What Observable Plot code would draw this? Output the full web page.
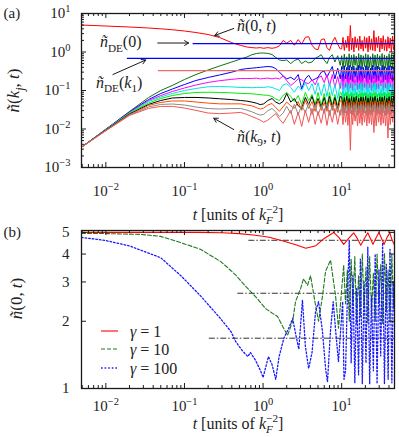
<!DOCTYPE html>
<html><head><meta charset="utf-8">
<script src="https://cdn.jsdelivr.net/npm/d3@7"></script>
<script src="https://cdn.jsdelivr.net/npm/@observablehq/plot@0.6"></script>
<style>
html,body{margin:0;padding:0;background:#fff;}
#chart{width:399px;height:437px;position:relative;overflow:hidden;background:#fff;}
#chart svg{display:block;}
</style></head><body><div id="chart"></div>
<script>
// ================= DATA =================
// shared time grid for panel (a)  [t in units of k_F^-2]
const tGrid = [0.0049, 0.01, 0.02, 0.035, 0.05, 0.07, 0.1, 0.14, 0.2, 0.28, 0.4, 0.52, 0.62, 0.72, 0.82, 0.92, 1.02, 1.15, 1.3, 1.45, 1.62, 1.8, 2.0, 2.25, 2.5, 2.8, 3.1, 3.45, 3.8, 4.2, 4.6, 5.0, 5.5, 6.0, 6.5, 7.0, 7.6, 8.2, 8.9, 9.6,
  10.0, 10.4, 10.8, 11.2, 11.6, 12.0, 12.45, 12.9, 13.35, 13.8, 14.3, 14.8, 15.35, 15.9, 16.45, 17.0, 17.6, 18.2, 18.85, 19.5, 20.2, 20.9, 21.65, 22.4, 23.2, 24.0, 24.85, 25.7, 26.6, 27.5, 28.5, 29.5, 30.5, 31.6, 32.7, 33.8, 35.0, 36.2, 37.5, 38.8, 40.1, 41.5, 42.9, 44.4, 45.7, 47];

const nK0 = [5.02, 4.73, 4.46, 4.2, 4.0, 3.79, 3.51, 3.21, 2.85, 2.38, 1.75, 1.48, 1.35, 1.3, 1.27, 1.3, 1.25, 1.3, 1.25, 1.3, 1.45, 1.99, 1.7, 2.0, 1.5, 2.1, 1.6, 2.4, 2.5, 1.5, 1.2, 1.15, 2.1, 2.2, 1.3, 1.1, 1.8, 2.4, 1.6, 1.2,
  1.2, 2.4, 1.1, 2.0, 1.3, 2.6, 1.05, 4.87, 1.15, 2.3, 1.0, 2.5, 1.3, 2.2, 1.1, 2.6, 1.2, 2.0, 1.05, 2.5, 1.25, 2.35, 1.0, 2.6, 1.15, 2.2, 1.1, 3.6, 1.05, 2.4, 1.3, 2.55, 1.0, 2.3, 1.2, 2.65, 1.1, 2.1, 1.05, 2.5, 1.25, 2.3, 1.0, 2.6, 1.15, 1.7];
const nK1 = [0.00337, 0.00989, 0.0285, 0.0658, 0.100, 0.135, 0.193, 0.26, 0.341, 0.433, 0.55, 0.66, 0.74, 0.85, 0.91, 0.94, 0.94, 0.92, 0.86, 0.72, 0.62, 0.6, 0.62, 0.5, 0.6, 0.66, 0.5, 0.58, 0.52, 0.55, 0.68, 0.75, 0.85, 0.62, 0.5, 0.72, 0.85, 0.55, 0.8, 0.45,
  0.8, 0.36, 0.88, 0.42, 0.75, 0.34, 0.9, 0.4, 0.82, 0.35, 0.86, 0.45, 0.78, 0.33, 0.91, 0.38, 0.84, 0.36, 0.8, 0.42, 0.9, 0.34, 0.85, 0.39, 0.76, 0.33, 0.9, 0.41, 0.83, 0.35, 0.88, 0.37, 0.8, 0.44, 0.91, 0.34, 0.84, 0.38, 0.79, 0.33, 0.9, 0.4, 0.86, 0.36, 0.82, 0.6];
const nK2 = [0.00337, 0.00977, 0.0277, 0.0583, 0.0836, 0.109, 0.143, 0.182, 0.218, 0.253, 0.3, 0.35, 0.37, 0.38, 0.39, 0.40, 0.41, 0.42, 0.41, 0.37, 0.3, 0.24, 0.2, 0.22, 0.19, 0.26, 0.11, 0.2, 0.25, 0.18, 0.2, 0.22, 0.3, 0.32, 0.22, 0.3, 0.42, 0.2, 0.38, 0.2,
  0.42, 0.17, 0.44, 0.2, 0.4, 0.165, 0.45, 0.19, 0.41, 0.17, 0.43, 0.22, 0.39, 0.16, 0.45, 0.18, 0.42, 0.17, 0.4, 0.21, 0.44, 0.165, 0.42, 0.19, 0.38, 0.16, 0.45, 0.2, 0.41, 0.17, 0.43, 0.18, 0.4, 0.22, 0.45, 0.165, 0.42, 0.19, 0.39, 0.16, 0.44, 0.2, 0.43, 0.17, 0.41, 0.29];
const nK3 = [0.00337, 0.0097, 0.0268, 0.055, 0.074, 0.094, 0.116, 0.139, 0.162, 0.18, 0.195, 0.205, 0.205, 0.205, 0.21, 0.2, 0.205, 0.21, 0.2, 0.21, 0.2, 0.24, 0.18, 0.135, 0.16, 0.2, 0.19, 0.16, 0.15, 0.19, 0.14, 0.21, 0.24, 0.16, 0.26, 0.13, 0.26, 0.12, 0.23, 0.113,
  0.25, 0.105, 0.24, 0.12, 0.26, 0.1, 0.23, 0.115, 0.255, 0.1, 0.24, 0.13, 0.25, 0.105, 0.26, 0.11, 0.23, 0.1, 0.25, 0.12, 0.26, 0.105, 0.24, 0.115, 0.25, 0.1, 0.26, 0.12, 0.23, 0.105, 0.25, 0.11, 0.26, 0.13, 0.24, 0.1, 0.255, 0.115, 0.24, 0.1, 0.26, 0.12, 0.25, 0.105, 0.24, 0.16];
const nK4 = [0.00337, 0.0096, 0.0261, 0.0518, 0.0678, 0.0836, 0.100, 0.113, 0.125, 0.127, 0.124, 0.12, 0.12, 0.118, 0.12, 0.12, 0.12, 0.125, 0.12, 0.11, 0.1, 0.14, 0.15, 0.12, 0.09, 0.13, 0.1, 0.16, 0.1, 0.15, 0.08, 0.16, 0.075, 0.15, 0.07, 0.165, 0.074, 0.143, 0.062, 0.152,
  0.155, 0.066, 0.15, 0.072, 0.16, 0.063, 0.145, 0.07, 0.158, 0.065, 0.15, 0.076, 0.162, 0.064, 0.148, 0.069, 0.157, 0.062, 0.152, 0.073, 0.16, 0.065, 0.146, 0.068, 0.158, 0.063, 0.153, 0.075, 0.16, 0.066, 0.148, 0.07, 0.157, 0.064, 0.152, 0.072, 0.162, 0.065, 0.15, 0.068, 0.158, 0.063, 0.147, 0.071, 0.155, 0.1];
const nK5 = [0.00337, 0.0095, 0.0253, 0.0473, 0.062, 0.074, 0.0836, 0.089, 0.09, 0.089, 0.087, 0.084, 0.083, 0.082, 0.08, 0.078, 0.076, 0.075, 0.07, 0.06, 0.055, 0.075, 0.09, 0.07, 0.0518, 0.074, 0.0435, 0.089, 0.055, 0.079, 0.0435, 0.089, 0.041, 0.0836, 0.0386, 0.089, 0.041, 0.079, 0.0386, 0.089,
  0.086, 0.037, 0.084, 0.041, 0.089, 0.036, 0.08, 0.039, 0.088, 0.037, 0.083, 0.042, 0.089, 0.036, 0.081, 0.039, 0.087, 0.037, 0.085, 0.04, 0.089, 0.036, 0.082, 0.038, 0.088, 0.037, 0.084, 0.041, 0.089, 0.036, 0.081, 0.039, 0.087, 0.037, 0.085, 0.04, 0.089, 0.036, 0.083, 0.038, 0.088, 0.037, 0.084, 0.04, 0.086, 0.058];
const nK6 = [0.00337, 0.0094, 0.0245, 0.0435, 0.055, 0.0638, 0.066, 0.066, 0.064, 0.061, 0.058, 0.055, 0.053, 0.05, 0.047, 0.043, 0.045, 0.055, 0.062, 0.05, 0.045, 0.052, 0.0836, 0.05, 0.062, 0.04, 0.0343, 0.0658, 0.0435, 0.07, 0.0386, 0.062, 0.0364, 0.0658, 0.0343, 0.07, 0.0364, 0.0658, 0.0343, 0.07,
  0.068, 0.034, 0.065, 0.037, 0.07, 0.033, 0.062, 0.036, 0.069, 0.034, 0.066, 0.038, 0.07, 0.032, 0.063, 0.036, 0.068, 0.034, 0.066, 0.037, 0.07, 0.033, 0.064, 0.035, 0.069, 0.034, 0.066, 0.038, 0.07, 0.032, 0.063, 0.036, 0.068, 0.034, 0.066, 0.037, 0.07, 0.033, 0.064, 0.035, 0.069, 0.034, 0.066, 0.037, 0.068, 0.049];
const nK7 = [0.00337, 0.0092, 0.0238, 0.041, 0.049, 0.0534, 0.0534, 0.0503, 0.047, 0.045, 0.045, 0.045, 0.042, 0.04, 0.036, 0.033, 0.035, 0.042, 0.046, 0.036, 0.029, 0.038, 0.05, 0.04, 0.0343, 0.0518, 0.0304, 0.055, 0.0343, 0.0518, 0.0287, 0.055, 0.0304, 0.049, 0.0287, 0.055, 0.0304, 0.0518, 0.027, 0.055,
  0.053, 0.028, 0.05, 0.031, 0.055, 0.027, 0.049, 0.03, 0.054, 0.028, 0.051, 0.032, 0.055, 0.027, 0.05, 0.03, 0.053, 0.028, 0.052, 0.031, 0.055, 0.027, 0.049, 0.029, 0.054, 0.028, 0.051, 0.032, 0.055, 0.027, 0.05, 0.03, 0.053, 0.028, 0.052, 0.031, 0.055, 0.027, 0.049, 0.029, 0.054, 0.028, 0.051, 0.031, 0.053, 0.041];
const nK8 = [0.00337, 0.0091, 0.0231, 0.0373, 0.0435, 0.0446, 0.042, 0.0373, 0.034, 0.033, 0.034, 0.034, 0.031, 0.028, 0.025, 0.023, 0.024, 0.03, 0.034, 0.028, 0.021, 0.026, 0.0386, 0.0254, 0.0435, 0.0238, 0.041, 0.027, 0.046, 0.0238, 0.0435, 0.0225, 0.041, 0.0254, 0.046, 0.0225, 0.0435, 0.0238, 0.041, 0.0225,
  0.044, 0.023, 0.041, 0.026, 0.046, 0.0225, 0.04, 0.025, 0.045, 0.023, 0.042, 0.027, 0.046, 0.0225, 0.041, 0.025, 0.044, 0.023, 0.043, 0.026, 0.046, 0.0225, 0.04, 0.024, 0.045, 0.023, 0.042, 0.027, 0.046, 0.0225, 0.041, 0.025, 0.044, 0.023, 0.043, 0.026, 0.046, 0.0225, 0.04, 0.024, 0.045, 0.023, 0.042, 0.026, 0.044, 0.032];
const nK9 = [0.00337, 0.009, 0.0225, 0.0343, 0.0386, 0.0386, 0.0351, 0.0304, 0.026, 0.025, 0.026, 0.027, 0.024, 0.021, 0.019, 0.017, 0.015, 0.017, 0.021, 0.025, 0.018, 0.014, 0.02, 0.0304, 0.0132, 0.027, 0.0117, 0.0304, 0.0149, 0.0343, 0.0132, 0.0285, 0.0141, 0.0343, 0.0124, 0.0304, 0.0149, 0.0343, 0.0132, 0.0304,
  0.032, 0.013, 0.034, 0.015, 0.03, 0.0124, 0.034, 0.0028, 0.031, 0.013, 0.034, 0.016, 0.03, 0.012, 0.033, 0.014, 0.031, 0.0125, 0.034, 0.015, 0.03, 0.012, 0.033, 0.014, 0.031, 0.013, 0.034, 0.0081, 0.03, 0.012, 0.033, 0.015, 0.031, 0.0125, 0.034, 0.014, 0.03, 0.012, 0.033, 0.0058, 0.031, 0.013, 0.034, 0.015, 0.03, 0.022];

const seriesA = [nK0, nK1, nK2, nK3, nK4, nK5, nK6, nK7, nK8, nK9];
const colorsA = ["#ff0000", "#0b730b", "#0000ff", "#ff00ff", "#00e5e5", "#00ee00", "#000000", "#ff4a00", "#8a8a8a", "#f25555"];

// diagonal-ensemble plateaus drawn as horizontal lines
const deLevels = [1.66, 0.68, 0.33];
const deStarts = [0.127, 0.0185, 0.046];
const deColors = ["#0000ff", "#0000ff", "#f06a6a"];

// panel (b): n(0,t) for three interaction strengths
const gammas = ["1", "10", "100"];
const tG1 = [0.0049, 0.05, 0.15, 0.3, 0.5, 0.8, 1.2, 1.8, 2.6, 3.5, 4.7, 6.0, 7.9, 9.2, 10.6, 12.3, 14.2, 15.8, 17.5, 19.5, 21.5, 23.2, 25.0, 27.3, 29.8, 32.2, 34.6, 37.8, 41, 44, 47];
const nG1 = [5.0, 5.0, 5.0, 4.98, 4.94, 4.86, 4.76, 4.58, 4.4, 4.25, 4.36, 4.7, 5.0, 4.75, 4.42, 4.7, 4.98, 4.7, 4.38, 4.7, 4.98, 4.7, 4.42, 4.72, 5.0, 4.7, 4.42, 4.75, 4.98, 4.6, 4.4];
const tG10 = [0.0049, 0.01, 0.028, 0.05, 0.09, 0.16, 0.29, 0.45, 0.60, 0.80, 1.08, 1.32, 1.53, 1.77, 2.05, 2.38, 2.59, 3.0, 3.27, 3.68, 4.02, 4.65, 5.08, 5.71, 6.24, 7.22, 8.36, 9.12, 10.6,
  11.2, 11.8, 12.5, 13.2, 13.9, 14.7, 15.5, 16.4, 17.3, 18.3, 19.3, 20.4, 21.5, 22.7, 24.0, 25.3, 26.7, 28.2, 29.8, 31.4, 33.2, 35.0, 37.0, 39.0, 41.2, 43.5, 45.5, 47];
const nG10 = [4.95, 4.94, 4.9, 4.8, 4.5, 4.2, 3.7, 3.22, 2.87, 2.58, 2.28, 2.17, 2.1, 1.9, 1.73, 2.0, 2.45, 2.8, 3.1, 2.9, 3.2, 2.36, 2.0, 2.6, 3.35, 3.76, 2.6, 1.86, 3.57,
  2.4, 3.4, 2.0, 3.8, 2.4, 3.9, 1.95, 3.2, 2.1, 4.0, 2.3, 3.5, 1.95, 3.9, 2.2, 3.3, 2.0, 4.0, 2.4, 3.6, 1.95, 4.05, 2.2, 3.4, 2.0, 4.0, 2.3, 3.2];
const tG100 = [0.0049, 0.01, 0.02, 0.028, 0.05, 0.09, 0.16, 0.29, 0.39, 0.45, 0.55, 0.64, 0.69, 0.80, 0.93, 1.0, 1.17, 1.3, 1.45, 1.6, 1.84, 2.12, 2.38, 2.6, 2.85, 3.17, 3.45, 3.8, 4.2, 4.65, 5.08, 5.7, 6.24, 6.6, 7.2, 7.8, 8.4, 9.1, 10.3, 10.7,
  11.2, 11.8, 12.5, 13.2, 13.9, 14.7, 15.5, 16.4, 17.3, 18.3, 19.3, 20.4, 21.5, 22.7, 24.0, 25.3, 26.7, 28.2, 29.8, 31.4, 33.2, 35.0, 37.0, 39.0, 41.2, 43.5, 45.5, 47];
const nG100 = [4.75, 4.6, 4.35, 4.16, 3.85, 3.2, 2.6, 2.05, 1.8, 1.62, 1.47, 1.39, 1.45, 1.34, 1.2, 1.12, 1.39, 1.28, 1.1, 1.39, 1.68, 1.86, 2.06, 1.75, 1.5, 2.49, 1.55, 1.23, 1.45, 2.21, 2.45, 1.8, 1.23, 1.07, 1.8, 2.45, 1.8, 1.32, 2.45, 1.1,
  1.2, 2.5, 4.6, 1.3, 3.2, 1.06, 2.8, 1.15, 3.8, 1.05, 3.0, 1.3, 4.3, 1.05, 2.6, 1.2, 4.0, 1.05, 3.4, 1.4, 4.5, 1.05, 3.6, 1.1, 4.2, 1.06, 3.0, 2.2];
const seriesB = [[tG1, nG1], [tG10, nG10], [tG100, nG100]];
const colorsB = ["#ff0000", "#1c7a1c", "#1a1aff"];
const dashB = [null, "4,2", "1.6,2"];
const plateauB = [4.61, 2.67, 1.68];
const plateauStartB = [0.65, 0.47, 0.204];

// axes
const xDomain = [0.0049, 47];
const xTicksMajor = [0.01, 0.1, 1, 10];
const xTickLabels = ["10^{−2}", "10^{−1}", "10^{0}", "10^{1}"];
const xTicksMinor = [0.005, 0.006, 0.007, 0.008, 0.009, 0.02, 0.03, 0.04, 0.05, 0.06, 0.07, 0.08, 0.09, 0.2, 0.3, 0.4, 0.5, 0.6, 0.7, 0.8, 0.9, 2, 3, 4, 5, 6, 7, 8, 9, 20, 30, 40];
const yTicksA = [0.001, 0.01, 0.1, 1, 10];
const yTickLabelsA = ["10^{−3}", "10^{−2}", "10^{−1}", "10^{0}", "10^{1}"];
const yTicksMinorA = [0.002, 0.003, 0.004, 0.005, 0.006, 0.007, 0.008, 0.009, 0.02, 0.03, 0.04, 0.05, 0.06, 0.07, 0.08, 0.09, 0.2, 0.3, 0.4, 0.5, 0.6, 0.7, 0.8, 0.9, 2, 3, 4, 5, 6, 7, 8, 9];
const yTicksB = [1, 2, 3, 4, 5];
const yTickLabelsB = ["1", "2", "3", "4", "5"];
const xTitle = "*t* [units of *k*_{*F*}^{−2}]";

// ================= DRAWING =================
const W = 399;
const FONT = "Liberation Serif, DejaVu Serif, serif";
const INK = "#1a1a1a";

function tickMarks(innerW, innerH, yMajor, yMinor) {
  const m = [
    Plot.ruleX(xTicksMajor, {x: d => d, insetTop: innerH - 5, stroke: INK}),
    Plot.ruleX(xTicksMajor, {x: d => d, insetBottom: innerH - 5, stroke: INK}),
    Plot.ruleX(xTicksMinor, {x: d => d, insetTop: innerH - 3, stroke: INK}),
    Plot.ruleX(xTicksMinor, {x: d => d, insetBottom: innerH - 3, stroke: INK}),
    Plot.ruleY(yMajor, {y: d => d, insetRight: innerW - 5, stroke: INK}),
    Plot.ruleY(yMajor, {y: d => d, insetLeft: innerW - 5, stroke: INK})
  ];
  if (yMinor.length) {
    m.push(Plot.ruleY(yMinor, {y: d => d, insetRight: innerW - 3, stroke: INK}));
    m.push(Plot.ruleY(yMinor, {y: d => d, insetLeft: innerW - 3, stroke: INK}));
  }
  return m;
}
const T = (o) => Object.assign({fontFamily: FONT, fill: "#222"}, o);

// ---------- panel (a) ----------
const HA = 226, mA = {top: 13, right: 5, bottom: 59, left: 81};
const iWA = W - mA.left - mA.right, iHA = HA - mA.top - mA.bottom;
const marksA = [];
seriesA.forEach((vals, j) => {
  const pts = tGrid.map((t, i) => ({t, n: vals[i]}));
  marksA.push(Plot.line(pts, {x: "t", y: "n", stroke: colorsA[j], strokeWidth: 1, clip: true}));
});
deLevels.forEach((n, k) => {
  marksA.push(Plot.link([{t0: deStarts[k], t1: xDomain[1], n}], {x1: "t0", x2: "t1", y1: "n", y2: "n", stroke: deColors[k], strokeWidth: 1.3}));
});
const arrowsA = [
  {t1: 0.0457, n1: 1.71, t2: 0.113, n2: 1.71},
  {t1: 0.0123, n1: 0.26, t2: 0.0322, n2: 0.62},
  {t1: 0.423, n1: 4.08, t2: 0.243, n2: 2.69},
  {t1: 0.423, n1: 0.0097, t2: 0.236, n2: 0.019}
];
const notesA = [
  {s: "*ñ*_{DE}(0)", t: 0.0084, n: 1.8},
  {s: "*ñ*_{DE}(*k*_{1})", t: 0.0075, n: 0.16},
  {s: "*ñ*(0, *t*)", t: 0.465, n: 4.9},
  {s: "*ñ*(*k*_{9}, *t*)", t: 0.465, n: 0.0064}
];
marksA.push(
  Plot.arrow(arrowsA, {x1: "t1", y1: "n1", x2: "t2", y2: "n2", stroke: INK, strokeWidth: 1, headLength: 7}),
  Plot.text(notesA, T({x: "t", y: "n", text: "s", textAnchor: "start", lineAnchor: "middle", fontSize: 16})),
  ...tickMarks(iWA, iHA, yTicksA, yTicksMinorA),
  Plot.frame({stroke: INK, strokeWidth: 1.3}),
  Plot.text(xTicksMajor, T({x: d => d, text: (d, i) => xTickLabels[i], frameAnchor: "bottom", dy: 24, lineAnchor: "middle", textAnchor: "middle", fontSize: 15})),
  Plot.text(yTicksA, T({y: d => d, text: (d, i) => yTickLabelsA[i], frameAnchor: "left", dx: -11, textAnchor: "end", lineAnchor: "middle", fontSize: 15})),
  Plot.text([xTitle], T({text: d => d, frameAnchor: "bottom", dy: 47, textAnchor: "middle", lineAnchor: "middle", fontSize: 16})),
  Plot.text(["*ñ*(*k*_{*j*}, *t*)"], T({text: d => d, frameAnchor: "left", dx: -68, rotate: -90, textAnchor: "middle", lineAnchor: "middle", fontSize: 17})),
  Plot.text(["(a)"], T({text: d => d, frameAnchor: "top-left", dx: -78, textAnchor: "start", lineAnchor: "middle", fontSize: 15}))
);
const svgA = Plot.plot({
  width: W, height: HA, marginTop: mA.top, marginRight: mA.right, marginBottom: mA.bottom, marginLeft: mA.left,
  x: {type: "log", domain: xDomain, axis: null},
  y: {type: "log", domain: [0.001, 10], axis: null},
  style: {fontFamily: FONT, fontSize: "15px", background: "none", overflow: "visible", color: "#222"},
  marks: marksA
});

// ---------- panel (b) ----------
const HB = 211, mB = {top: 4, right: 5, bottom: 49, left: 81};
const iWB = W - mB.left - mB.right, iHB = HB - mB.top - mB.bottom;
const marksB = [];
plateauB.forEach((n, k) => {
  marksB.push(Plot.link([{t0: plateauStartB[k], t1: xDomain[1], n}], {x1: "t0", x2: "t1", y1: "n", y2: "n", stroke: "#333", strokeWidth: 1, strokeDasharray: "6,2,1.5,2"}));
});
seriesB.forEach(([ts, ns], k) => {
  const pts = ts.map((t, i) => ({t, n: ns[i]}));
  marksB.push(Plot.line(pts, {x: "t", y: "n", stroke: colorsB[k], strokeWidth: k === 2 ? 1.3 : 1.1, strokeDasharray: dashB[k], clip: true}));
});
marksB.push(
  ...tickMarks(iWB, iHB, yTicksB, []),
  Plot.frame({stroke: INK, strokeWidth: 1.3}),
  Plot.text(xTicksMajor, T({x: d => d, text: (d, i) => xTickLabels[i], frameAnchor: "bottom", dy: 18, lineAnchor: "middle", textAnchor: "middle", fontSize: 15})),
  Plot.text(yTicksB, T({y: d => d, text: (d, i) => yTickLabelsB[i], frameAnchor: "left", dx: -12, textAnchor: "end", lineAnchor: "middle", fontSize: 15})),
  Plot.text([xTitle], T({text: d => d, frameAnchor: "bottom", dy: 35, textAnchor: "middle", lineAnchor: "middle", fontSize: 16})),
  Plot.text(["*ñ*(0, *t*)"], T({text: d => d, frameAnchor: "left", dx: -65, dy: -11, rotate: -90, textAnchor: "middle", lineAnchor: "middle", fontSize: 17})),
  Plot.text(["(b)"], T({text: d => d, frameAnchor: "top-left", dx: -78, dy: 2, textAnchor: "start", lineAnchor: "middle", fontSize: 15}))
);
const svgB = Plot.plot({
  width: W, height: HB, marginTop: mB.top, marginRight: mB.right, marginBottom: mB.bottom, marginLeft: mB.left,
  x: {type: "log", domain: xDomain, axis: null},
  y: {type: "log", domain: [1, 5.1], axis: null},
  style: {fontFamily: FONT, fontSize: "15px", background: "none", overflow: "visible", color: "#222"},
  marks: marksB
});

const chart = document.getElementById("chart");
chart.appendChild(svgA);
chart.appendChild(svgB);

// legend for panel (b)
const legendY = [105, 123, 142];
const lg = d3.select(svgB).append("g").attr("font-family", FONT).attr("font-size", 16).attr("fill", "#222").attr("text-anchor", "start");
gammas.forEach((g, k) => {
  lg.append("line").attr("x1", 101).attr("x2", 118).attr("y1", legendY[k]).attr("y2", legendY[k])
    .attr("stroke", colorsB[k]).attr("stroke-width", k === 2 ? 1.3 : 1.1).attr("stroke-dasharray", dashB[k]);
  lg.append("text").attr("x", 130).attr("y", legendY[k]).attr("dy", "0.35em").attr("text-anchor", "start").text("*γ* = " + g);
});

// tiny markup: *italic*, ^{sup}, _{sub}
function richify(root) {
  const NS = "http://www.w3.org/2000/svg";
  root.querySelectorAll("text").forEach(el => {
    const s = el.textContent;
    if (!/[\^_*]/.test(s)) return;
    const fs = parseFloat(getComputedStyle(el).fontSize) || 15;
    while (el.firstChild) el.removeChild(el.firstChild);
    const parts = s.split(/(\^\{[^}]*\}|_\{[^}]*\})/).filter(p => p);
    let italic = false, cur = 0, prev = "n";
    parts.forEach(p => {
      let mode = "n", body = p;
      if (p.startsWith("^{")) { mode = "sup"; body = p.slice(2, -1); }
      else if (p.startsWith("_{")) { mode = "sub"; body = p.slice(2, -1); }
      const target = mode === "sup" ? -0.42 * fs : mode === "sub" ? 0.28 * fs : 0;
      let first = true;
      body.split("*").forEach((q, i) => {
        if (i > 0) italic = !italic;
        if (!q) return;
        const ts = document.createElementNS(NS, "tspan");
        ts.textContent = q;
        if (italic) ts.setAttribute("font-style", "italic");
        if (mode !== "n") ts.setAttribute("font-size", (0.7 * fs).toFixed(2));
        if (first) {
          const d = target - cur;
          if (d) ts.setAttribute("dy", d.toFixed(2));
          if (mode === "sup" && prev === "sub") ts.setAttribute("dx", (-0.42 * fs).toFixed(2));
          cur = target; first = false;
        }
        el.appendChild(ts);
      });
      prev = mode;
    });
  });
}
richify(svgA);
richify(svgB);
</script>
</body></html>
